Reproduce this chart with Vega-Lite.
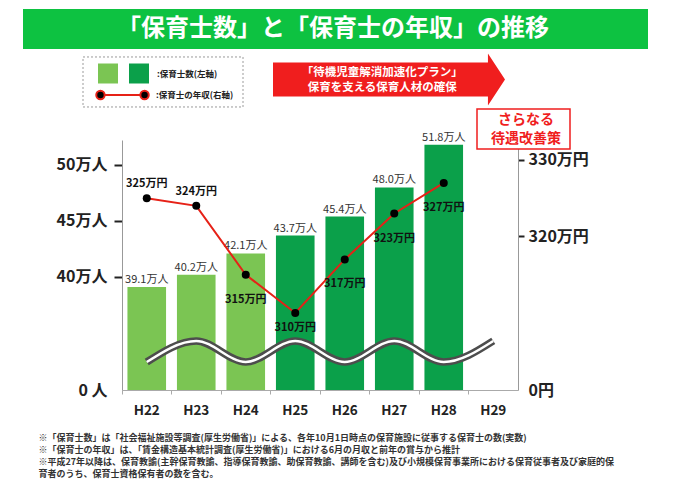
{
  "$schema": "https://vega.github.io/schema/vega-lite/v6.json",
  "width": 396,
  "height": 250,
  "autosize": {"type": "none"},
  "padding": {"left": 122, "top": 140, "right": 162, "bottom": 95},
  "background": "#ffffff",
  "config": {
    "font": "Noto Sans CJK JP",
    "view": {"stroke": null},
    "axis": {"labelFont": "Noto Sans CJK JP", "titleFont": "Noto Sans CJK JP"},
    "legend": {"labelFont": "Noto Sans CJK JP"},
    "text": {"font": "Noto Sans CJK JP"}
  },
  "datasets": {
    "main": [
      {"year": "H22", "staff": 39.1, "salary": 325, "phase": "H24以前"},
      {"year": "H23", "staff": 40.2, "salary": 324, "phase": "H24以前"},
      {"year": "H24", "staff": 42.1, "salary": 315, "phase": "H24以前"},
      {"year": "H25", "staff": 43.7, "salary": 310, "phase": "H25以降"},
      {"year": "H26", "staff": 45.4, "salary": 317, "phase": "H25以降"},
      {"year": "H27", "staff": 48.0, "salary": 323, "phase": "H25以降"},
      {"year": "H28", "staff": 51.8, "salary": 327, "phase": "H25以降"}
    ],
    "axisBreak": [
      {"year": "H22", "level": 32.41},
      {"year": "H23", "level": 34.29},
      {"year": "H24", "level": 32.41},
      {"year": "H25", "level": 34.29},
      {"year": "H26", "level": 32.41},
      {"year": "H27", "level": 34.29},
      {"year": "H28", "level": 32.41},
      {"year": "H29", "level": 34.29}
    ]
  },
  "data": {"name": "main"},
  "layer": [
    {
      "layer": [
        {
          "mark": {"type": "bar"},
          "encoding": {
            "x": {
              "field": "year", "type": "ordinal",
              "scale": {"domain": ["H22", "H23", "H24", "H25", "H26", "H27", "H28", "H29"], "paddingInner": 0.22, "paddingOuter": 0.11},
              "axis": {
                "title": [
                  "※「保育士数」は「社会福祉施設等調査(厚生労働省)」による、各年10月1日時点の保育施設に従事する保育士の数(実数)",
                  "※「保育士の年収」は、「賃金構造基本統計調査(厚生労働省)」における6月の月収と前年の賞与から推計",
                  "※平成27年以降は、保育教諭(主幹保育教諭、指導保育教諭、助保育教諭、講師を含む)及び小規模保育事業所における保育従事者及び家庭的保",
                  "　育者のうち、保育士資格保有者の数を含む。"
                ],
                "titleX": -84, "titleY": 43, "titleAlign": "left", "titleAnchor": "start", "titleBaseline": "top",
                "titleFontSize": 9, "titleFontWeight": "bold", "titleColor": "#333333", "titleLineHeight": 12, "titleLimit": 700,
                "labelAngle": 0, "labelFontSize": 13.5, "labelFontWeight": "bold", "labelColor": "#222222", "labelPadding": 9,
                "domainColor": "#aaaaaa", "tickColor": "#aaaaaa", "tickSize": 4, "bandPosition": -0.141
              }
            },
            "y": {
              "field": "staff", "type": "quantitative",
              "scale": {"domain": [29.91, 52.23], "nice": false, "zero": false},
              "axis": {
                "values": [29.91, 40, 45, 50],
                "labelExpr": "datum.value < 35 ? '0 人' : datum.value + '万人'",
                "title": null, "grid": false, "domainColor": "#999999",
                "tickColor": "#222222", "tickWidth": 2, "tickSize": 8,
                "tickOpacity": {"condition": {"test": "datum.value < 35", "value": 0}, "value": 1},
                "labelFontSize": 16, "labelFontWeight": "bold", "labelColor": "#222222", "labelPadding": 7
              }
            },
            "y2": {"datum": 29.91},
            "color": {
              "field": "phase", "type": "nominal",
              "scale": {"domain": ["H24以前", "H25以降"], "range": ["#7BC553", "#0BA04A"]},
              "legend": {
                "orient": "none", "legendX": -24, "legendY": -76.5, "direction": "horizontal", "title": null,
                "symbolType": "square", "symbolSize": 400, "symbolStrokeWidth": 0, "symbolOpacity": 1,
                "labelExpr": "datum.label == 'H25以降' ? '　　:保育士数(左軸)' : ''",
                "labelFontSize": 8.5, "labelFontWeight": "bold", "labelColor": "#222222",
                "labelOffset": 8, "columnPadding": 3, "padding": 0
              }
            }
          }
        },
        {
          "transform": [{"calculate": "format(datum.staff, '.1f') + '万人'", "as": "staffText"}],
          "mark": {"type": "text", "baseline": "bottom", "dy": -2, "fontSize": 11, "color": "#333333"},
          "encoding": {
            "x": {"field": "year", "type": "ordinal"},
            "y": {"field": "staff", "type": "quantitative"},
            "text": {"field": "staffText"}
          }
        },
        {
          "data": {"name": "axisBreak"},
          "mark": {"type": "line", "interpolate": "monotone", "color": "#4d4d4d", "strokeWidth": 7.5},
          "encoding": {
            "x": {"field": "year", "type": "ordinal"},
            "y": {"field": "level", "type": "quantitative"}
          }
        },
        {
          "data": {"name": "axisBreak"},
          "mark": {"type": "line", "interpolate": "monotone", "color": "#ffffff", "strokeWidth": 2.5},
          "encoding": {
            "x": {"field": "year", "type": "ordinal"},
            "y": {"field": "level", "type": "quantitative"}
          }
        },
        {
          "data": {"values": [{"item": "凡例"}]},
          "mark": {"type": "point", "shape": "M-1,-0.3125L1,-0.3125L1,0.3125L-1,0.3125Z", "size": 25600, "filled": false, "stroke": "#9a9a9a", "strokeWidth": 1, "strokeDash": [2, 2], "opacity": 1, "xOffset": 16.25},
          "encoding": {"x": {"datum": "H22", "type": "ordinal"}, "y": {"datum": 57.41, "type": "quantitative"}}
        },
        {
          "data": {"values": [{"title": "「保育士数」と「保育士の年収」の推移"}]},
          "mark": {"type": "point", "shape": "M-1,-0.064L1,-0.064L1,0.064L-1,0.064Z", "size": 390625, "filled": true, "fill": "#0DC241", "strokeWidth": 0, "opacity": 1, "xOffset": 15.5},
          "encoding": {"y": {"datum": 62.14, "type": "quantitative"}}
        },
        {
          "data": {"values": [{"title": "「保育士数」と「保育士の年収」の推移"}]},
          "mark": {"type": "text", "fontSize": 24, "fontWeight": "bold", "color": "#ffffff", "align": "center", "baseline": "middle", "dx": 13},
          "encoding": {"y": {"datum": 62.14, "type": "quantitative"}, "text": {"field": "title"}}
        },
        {
          "data": {"values": [{"plan": "「待機児童解消加速化プラン」\n保育を支える保育人材の確保"}]},
          "mark": {"type": "point", "shape": "M-1,-0.146L0.853,-0.146L0.853,-0.224L1,0L0.853,0.224L0.853,0.146L-1,0.146Z", "size": 53824, "filled": true, "fill": "#F01E1E", "strokeWidth": 0, "opacity": 1, "xOffset": -5.25},
          "encoding": {"x": {"datum": "H27", "type": "ordinal"}, "y": {"datum": 57.63, "type": "quantitative"}}
        },
        {
          "data": {"values": [{"plan": "「待機児童解消加速化プラン」\n保育を支える保育人材の確保"}]},
          "mark": {"type": "text", "lineBreak": "\n", "lineHeight": 15.5, "fontSize": 11.5, "fontWeight": "bold", "color": "#ffffff", "align": "center", "baseline": "middle", "dx": -12, "dy": -7.75},
          "encoding": {"x": {"datum": "H27", "type": "ordinal"}, "y": {"datum": 57.54, "type": "quantitative"}, "text": {"field": "plan"}}
        },
        {
          "data": {"values": [{"note": "さらなる\n待遇改善策"}]},
          "mark": {"type": "point", "shape": "M-1,-0.43L1,-0.43L1,0.43L-1,0.43Z", "size": 8649, "filled": true, "fill": "#ffffff", "stroke": "#F01E1E", "strokeWidth": 1.5, "opacity": 1, "xOffset": 30.25},
          "encoding": {"x": {"datum": "H29", "type": "ordinal"}, "y": {"datum": 53.21, "type": "quantitative"}}
        },
        {
          "data": {"values": [{"note": "さらなる\n待遇改善策"}]},
          "mark": {"type": "text", "lineBreak": "\n", "lineHeight": 19, "fontSize": 14, "fontWeight": "bold", "color": "#F01E1E", "align": "center", "baseline": "middle", "dx": 32.75, "dy": -9.5},
          "encoding": {"x": {"datum": "H29", "type": "ordinal"}, "y": {"datum": 53.21, "type": "quantitative"}, "text": {"field": "note"}}
        }
      ]
    },
    {
      "layer": [
        {
          "mark": {"type": "line", "color": "#E62117", "strokeWidth": 2},
          "encoding": {
            "x": {"field": "year", "type": "ordinal"},
            "y": {
              "field": "salary", "type": "quantitative",
              "scale": {"domain": [299.93, 332.61], "nice": false, "zero": false},
              "axis": {
                "orient": "right", "values": [299.93, 320, 330],
                "labelExpr": "datum.value < 310 ? '0円' : datum.value + '万円'",
                "title": null, "grid": false, "domainColor": "#999999",
                "tickColor": "#222222", "tickWidth": 2, "tickSize": 6,
                "tickOpacity": {"condition": {"test": "datum.value < 310", "value": 0}, "value": 1},
                "labelFontSize": 16, "labelFontWeight": "bold", "labelColor": "#222222", "labelPadding": 4
              }
            }
          }
        },
        {
          "mark": {"type": "point", "filled": true, "size": 64, "opacity": 1},
          "encoding": {
            "x": {"field": "year", "type": "ordinal"},
            "y": {"field": "salary", "type": "quantitative"},
            "fill": {
              "datum": "保育士の年収(右軸)", "type": "nominal",
              "scale": {"range": ["#000000"]},
              "legend": {
                "orient": "none", "legendX": -11, "legendY": -56.5, "title": null,
                "symbolType": "M-1.7,0L1.7,0M-2.5,0a0.4,0.4 0 1,0 0.8,0a0.4,0.4 0 1,0 -0.8,0M1.7,0a0.4,0.4 0 1,0 0.8,0a0.4,0.4 0 1,0 -0.8,0",
                "symbolSize": 441, "symbolStrokeColor": "#E62117", "symbolStrokeWidth": 2, "symbolOpacity": 1,
                "labelExpr": "':' + datum.label",
                "labelFontSize": 8.5, "labelFontWeight": "bold", "labelColor": "#222222",
                "labelOffset": 22, "padding": 0
              }
            }
          }
        },
        {
          "transform": [{"filter": "datum.year == 'H22' || datum.year == 'H23'"}, {"calculate": "datum.salary + '万円'", "as": "salaryText"}],
          "mark": {"type": "text", "dy": -14, "fontSize": 11, "fontWeight": "bold", "color": "#111111", "baseline": "middle"},
          "encoding": {
            "x": {"field": "year", "type": "ordinal"},
            "y": {"field": "salary", "type": "quantitative"},
            "text": {"field": "salaryText"}
          }
        },
        {
          "transform": [{"filter": "datum.year == 'H25'"}, {"calculate": "datum.salary + '万円'", "as": "salaryText"}],
          "mark": {"type": "text", "dy": 15, "fontSize": 11, "fontWeight": "bold", "color": "#111111", "baseline": "middle"},
          "encoding": {
            "x": {"field": "year", "type": "ordinal"},
            "y": {"field": "salary", "type": "quantitative"},
            "text": {"field": "salaryText"}
          }
        },
        {
          "transform": [{"filter": "datum.year == 'H24' || datum.year == 'H26' || datum.year == 'H27' || datum.year == 'H28'"}, {"calculate": "datum.salary + '万円'", "as": "salaryText"}],
          "mark": {"type": "text", "dy": 25, "fontSize": 11, "fontWeight": "bold", "color": "#111111", "baseline": "middle"},
          "encoding": {
            "x": {"field": "year", "type": "ordinal"},
            "y": {"field": "salary", "type": "quantitative"},
            "text": {"field": "salaryText"}
          }
        }
      ]
    }
  ],
  "resolve": {"scale": {"y": "independent"}}
}
